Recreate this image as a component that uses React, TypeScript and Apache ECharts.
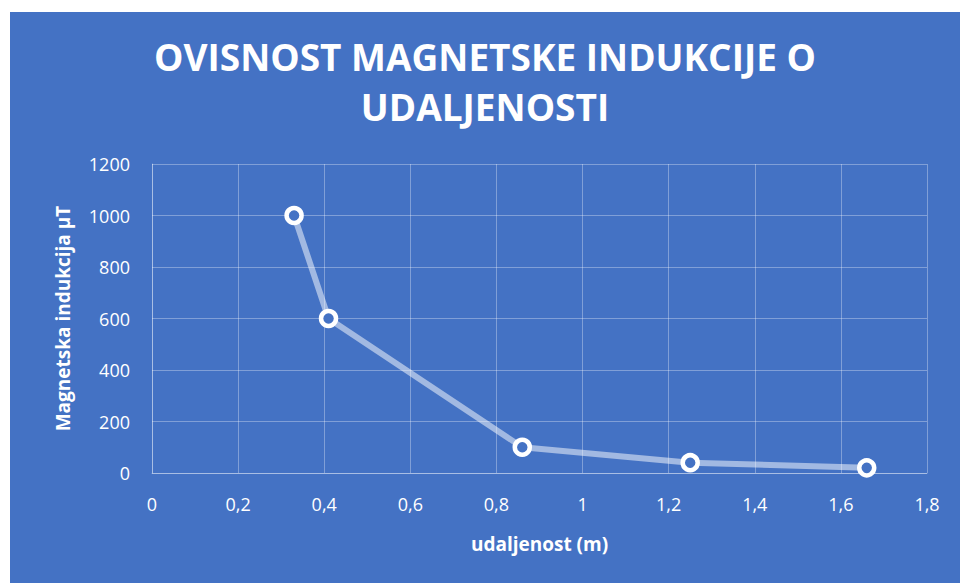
import React, { useEffect, useRef } from "react";
import * as echarts from "echarts";

const titleText = "OVISNOST MAGNETSKE INDUKCIJE O\nUDALJENOSTI";
const xAxisName = "udaljenost (m)";
const yAxisName = "Magnetska indukcija µT";
const distances = [0.33, 0.41, 0.86, 1.25, 1.66];
const inductions = [1000, 600, 100, 40, 20];

const BG = "#4472C4";
const FONT = "'Open Sans', sans-serif";

export default function App() {
  const ref = useRef<HTMLDivElement>(null);
  useEffect(() => {
    if (!ref.current) return;
    const chart = echarts.init(ref.current, undefined, { renderer: "svg" });
    const data = distances.map((d, i) => [d, inductions[i]]);
    chart.setOption({
      animation: false,
      backgroundColor: BG,
      title: {
        text: titleText,
        left: "center",
        top: 14,
        textStyle: {
          color: "#ffffff",
          fontFamily: FONT,
          fontWeight: "bold",
          fontSize: 37,
          lineHeight: 50,
        },
      },
      grid: { left: 142, top: 152, right: 33, bottom: 110, containLabel: false },
      xAxis: {
        type: "value",
        min: 0,
        max: 1.8,
        interval: 0.2,
        name: xAxisName,
        nameLocation: "middle",
        nameGap: 61,
        nameTextStyle: { color: "#ffffff", fontFamily: FONT, fontWeight: "bold", fontSize: 19, verticalAlign: "top" },
        axisLine: { show: true, lineStyle: { color: "rgba(255,255,255,0.32)", width: 1 } },
        axisTick: { show: false },
        axisLabel: {
          color: "#ffffff",
          fontFamily: FONT,
          fontSize: 18,
          margin: 22,
          formatter: (v: number) => String(Math.round(v * 10) / 10).replace(".", ","),
        },
        splitLine: { show: true, lineStyle: { color: "rgba(255,255,255,0.32)", width: 1 } },
      },
      yAxis: {
        type: "value",
        min: 0,
        max: 1200,
        interval: 200,
        name: yAxisName,
        nameLocation: "middle",
        nameGap: 80,
        nameTextStyle: { color: "#ffffff", fontFamily: FONT, fontWeight: "bold", fontSize: 19 },
        axisLine: { show: true, lineStyle: { color: "rgba(255,255,255,0.32)", width: 1 } },
        axisTick: { show: false },
        axisLabel: {
          color: "#ffffff",
          fontFamily: FONT,
          fontSize: 18,
          margin: 22,
          formatter: (v: number) => String(v),
        },
        splitLine: { show: true, lineStyle: { color: "rgba(255,255,255,0.32)", width: 1 } },
      },
      series: [
        {
          type: "line",
          data,
          symbol: "circle",
          symbolSize: 15,
          lineStyle: { color: "rgba(255,255,255,0.5)", width: 6 },
          itemStyle: { color: BG, borderColor: "#ffffff", borderWidth: 4.5 },
        },
      ],
    });
    return () => chart.dispose();
  }, []);
  return (
    <div
      ref={ref}
      style={{ position: "absolute", left: 10, top: 12, width: 950, height: 571 }}
    />
  );
}
